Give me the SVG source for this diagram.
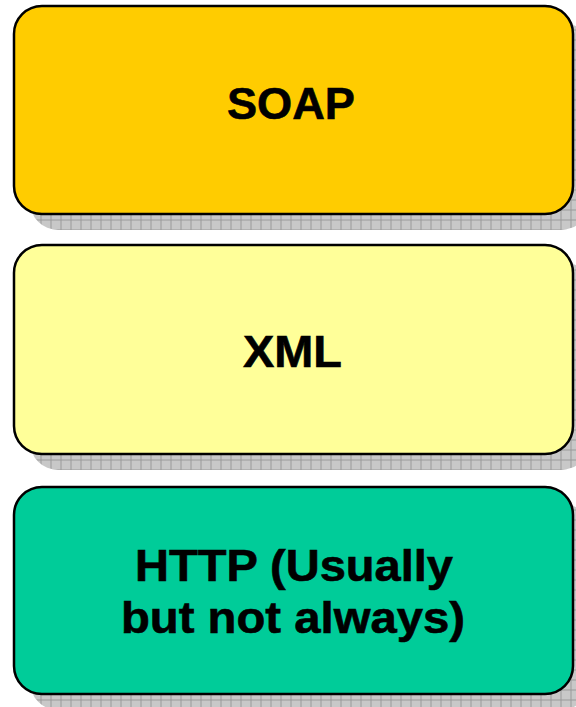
<svg xmlns="http://www.w3.org/2000/svg" width="576" height="707" viewBox="0 0 576 707">
  <defs>
    <!-- hatched grid used for the drop shadows -->
    <pattern id="grid" patternUnits="userSpaceOnUse" x="0.5" y="9.5" width="10" height="10">
      <rect width="10" height="10" fill="#c8c8c8"/>
      <path d="M0 0.5H10M0.5 0V10" stroke="#999999" stroke-width="1"/>
    </pattern>
    <style>
      .shadow { fill: url(#grid); }
      .box { stroke: #000; stroke-width: 2.5; }
      .label { font-family: "Liberation Sans", Arial, sans-serif; font-weight: bold; font-size: 44px; fill: #000; stroke: #000; stroke-width: 0.6; }
    </style>
  </defs>
  <rect width="576" height="707" fill="#ffffff"/>

  <g id="soap">
    <rect class="shadow" x="30" y="22" width="559" height="208" rx="28"/>
    <rect class="box" x="14" y="6" width="559" height="208" rx="28" fill="#ffcc00"/>
    <text class="label" x="227" y="119" textLength="128" lengthAdjust="spacingAndGlyphs">SOAP</text>
  </g>

  <g id="xml">
    <rect class="shadow" x="30" y="261" width="559" height="209" rx="28"/>
    <rect class="box" x="14" y="245" width="559" height="209" rx="28" fill="#ffff99"/>
    <text class="label" x="243" y="367" textLength="99" lengthAdjust="spacingAndGlyphs">XML</text>
  </g>

  <g id="http">
    <rect class="shadow" x="30" y="503" width="559" height="207" rx="28"/>
    <rect class="box" x="14" y="487" width="559" height="207" rx="28" fill="#00cc99"/>
    <text class="label" x="135" y="581" textLength="318" lengthAdjust="spacingAndGlyphs">HTTP (Usually</text>
    <text class="label" x="121" y="633" textLength="344" lengthAdjust="spacingAndGlyphs">but not always)</text>
  </g>

  <g id="connectors"/>
</svg>
